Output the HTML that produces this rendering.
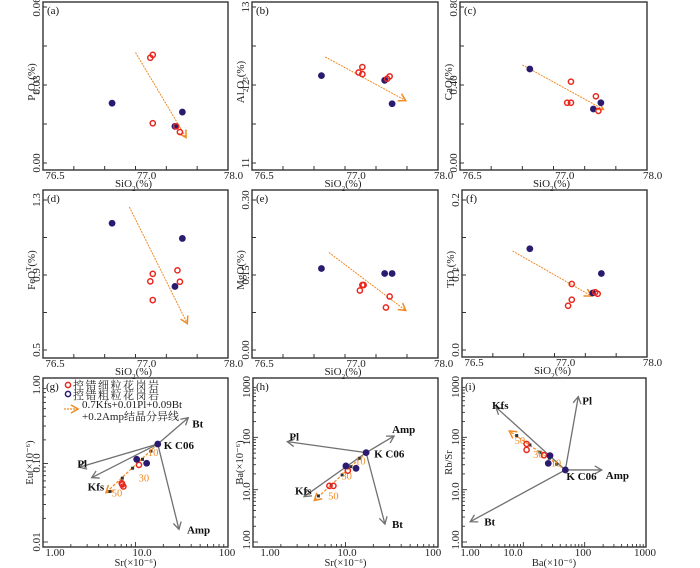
<!DOCTYPE html>
<html><head><meta charset="utf-8"><style>
html,body{margin:0;padding:0;background:#fff;}
svg{display:block;font-family:"Liberation Serif","Noto Serif CJK SC",serif;}
</style></head><body>
<svg id="fig" width="700" height="568" viewBox="0 0 700 568" xmlns="http://www.w3.org/2000/svg">
<defs>
<marker id="ga" markerWidth="10" markerHeight="10" refX="8" refY="5" orient="auto" markerUnits="userSpaceOnUse"><path d="M1,1 L8,5 L1,9" fill="none" stroke="#707070" stroke-width="1.3"/></marker>
<marker id="oa" markerWidth="10" markerHeight="10" refX="8" refY="5" orient="auto" markerUnits="userSpaceOnUse"><path d="M1,1 L8,5 L1,9" fill="none" stroke="#f08a24" stroke-width="1.5"/></marker>
</defs>
</svg>
<script>
// ---------- Data: SiO2 panels ----------
const siBlueA=[77.06,77.63,77.57], pBlue=[0.0230,0.0196,0.0141];
const siRedA=[77.37,77.39,77.39,77.58,77.61], pRed=[0.0405,0.0416,0.0153,0.0141,0.0119];
const trendA=[[77.25,0.0425],[77.66,0.0098]];
const siBlueB=[77.06,77.57,77.63], alBlue=[12.12,12.06,11.76];
const siRedB=[77.36,77.39,77.39,77.59,77.61], alRed=[12.16,12.23,12.14,12.08,12.11];
const trendB=[[77.09,12.36],[77.74,11.80]];
const siBlueC=[77.06,77.57,77.63], caBlue=[0.482,0.277,0.309];
const siRedC=[77.39,77.36,77.39,77.59,77.61], caRed=[0.417,0.309,0.309,0.342,0.267];
const trendC=[[77.0,0.503],[77.65,0.275]];
const siBlueD=[77.06,77.63,77.57], feBlue=[1.176,1.095,0.839];
const siRedD=[77.39,77.37,77.39,77.59,77.61], feRed=[0.906,0.866,0.766,0.925,0.864];
const trendD=[[77.2,1.263],[77.67,0.641]];
const siBlueE=[77.06,77.57,77.63], mgBlue=[0.163,0.153,0.153];
const siRedE=[77.37,77.39,77.40,77.61,77.58], mgRed=[0.119,0.130,0.130,0.107,0.085];
const trendE=[[77.12,0.195],[77.74,0.079]];
const siBlueF=[77.05,77.63,77.56], tiBlue=[0.135,0.102,0.076];
const siRedF=[77.39,77.39,77.36,77.58,77.60], tiRed=[0.088,0.067,0.059,0.077,0.075];
const trendF=[[76.91,0.132],[77.55,0.072]];
// ---------- Data: log panels ----------
const gKC=[17.4,0.177], gBlueX=[10.3,13.2], gBlueY=[0.113,0.1007];
const gRedX=[10.9,7.1,7.4,7.2], gRedY=[0.096,0.056,0.051,0.054];
const gFracX=[14.7,11.9,9.3,7.2,5.3], gFracY=[0.144,0.113,0.087,0.065,0.044];
const gFracEnd=[4.8,0.0425];
const gFracLbl=["10","30","50"], gFracLblX=[15.5,12.3,6.3], gFracLblY=[0.14,0.066,0.043];
const vecNames=["Bt","Pl","Kfs","Amp"];
const gVecX=[37.2,2.47,3.36,29.5], gVecY=[0.383,0.0895,0.066,0.0145];
const hKC=[16.7,51], hBlueX=[10.1,13.0], hBlueY=[28.4,25.6];
const hRedX=[10.6,6.7,7.4], hRedY=[23.1,11.8,11.8];
const hFracX=[14.1,11.4,9.2,7.0,5.1], hFracY=[39.8,27.5,19.1,12.3,7.6];
const hFracEnd=[4.6,6.2];
const hFracLbl=["10","30","50"], hFracLblX=[14.5,10.3,7.4], hFracLblY=[36,18.5,7.8];
const hVecX=[26.7,2.35,3.56,33.5], hVecY=[2.2,82.8,7.35,106];
const iKC=[48.4,23.8], iBlueX=[27.2,25.5], iBlueY=[44.7,31.8];
const iRedX=[11.3,11.3,21.7], iRedY=[74.8,57.6,45.5];
const iFracX=[35,26.5,18.7,12.8,7.8], iFracY=[30.6,39.8,51.9,71.6,108];
const iFracEnd=[5.9,132];
const iFracLbl=["10","30","50"], iFracLblX=[34,17.6,8.8], iFracLblY=[33,48,89];
const iVecX=[1.36,78.7,3.58,190], iVecY=[2.44,600,377,23.8];

const NS="http://www.w3.org/2000/svg";
const svg=document.getElementById('fig');
function el(tag,attrs,parent){const e=document.createElementNS(NS,tag);for(const k in attrs)e.setAttribute(k,attrs[k]);(parent||svg).appendChild(e);return e;}
function txt(str,attrs,parent){const t=el('text',attrs,parent);t.textContent=str;return t;}
function richText(parts,attrs,parent){const t=el('text',attrs,parent);parts.forEach(p=>{const s=el('tspan',p.sub?{'font-size':'7','baseline-shift':p.sup?'super':'sub'}:{},t);s.textContent=p.t;});return t;}

const BLUE="#2b1b70", RED="#e8281e", ORANGE="#f08a24", GRAY="#707070";

function frame(g,L,T,R,B){
  const r=el('rect',{x:L,y:T,width:R-L,height:B-T,fill:'none',stroke:'#333','stroke-width':1.4},g);
  
  
}
function blueDot(g,x,y){const c=el('circle',{cx:x,cy:y,r:3.4,fill:BLUE},g);
  
  }
function redDot(g,x,y){const c=el('circle',{cx:x,cy:y,r:2.6,fill:'none',stroke:RED,'stroke-width':1.5},g);
  
  }

const linPanels=[
 {id:'a',L:43,T:2,R:228,B:170,yTop:0.06,yBot:0,pyTop:7,pyBot:163,yl:['0.06','0.03','0.00'],yt:[{t:'P'},{t:'2',sub:1},{t:'O'},{t:'5',sub:1},{t:'(%)'}],bx:siBlueA,by:pBlue,rx:siRedA,ry:pRed,tr:trendA},
 {id:'b',L:252,T:2,R:438,B:170,yTop:13,yBot:11,pyTop:7,pyBot:163,yl:['13','12','11'],yt:[{t:'Al'},{t:'2',sub:1},{t:'O'},{t:'3',sub:1},{t:'(%)'}],bx:siBlueB,by:alBlue,rx:siRedB,ry:alRed,tr:trendB},
 {id:'c',L:460,T:2,R:647,B:170,yTop:0.8,yBot:0,pyTop:7,pyBot:163,yl:['0.80','0.40','0.00'],yt:[{t:'CaO(%)'}],bx:siBlueC,by:caBlue,rx:siRedC,ry:caRed,tr:trendC},
 {id:'d',L:43,T:190,R:228,B:358,yTop:1.3,yBot:0.5,pyTop:200,pyBot:350,yl:['1.3','0.9','0.5'],yt:[{t:'FeO'},{t:'T',sub:1,sup:1},{t:'(%)'}],bx:siBlueD,by:feBlue,rx:siRedD,ry:feRed,tr:trendD},
 {id:'e',L:252,T:190,R:438,B:358,yTop:0.3,yBot:0,pyTop:200,pyBot:350,yl:['0.30','0.15','0.00'],yt:[{t:'MgO(%)'}],bx:siBlueE,by:mgBlue,rx:siRedE,ry:mgRed,tr:trendE},
 {id:'f',L:462,T:190,R:647,B:357,yTop:0.2,yBot:0,pyTop:200,pyBot:350,yl:['0.2','0.1','0.0'],yt:[{t:'TiO'},{t:'2',sub:1},{t:'(%)'}],bx:siBlueF,by:tiBlue,rx:siRedF,ry:tiRed,tr:trendF},
];
linPanels.forEach(p=>{
  const g=el('g',{});
  
  
  const W=p.R-p.L;
  const sx=v=>p.L+(v-76.5)/1.5*W;
  const sy=v=>p.pyBot+(v-p.yBot)/(p.yTop-p.yBot)*(p.pyTop-p.pyBot);
  frame(g,p.L,p.T,p.R,p.B);
  for(let i=1;i<6;i++){const x=p.L+W*i/6;el('line',{x1:x,y1:p.B,x2:x,y2:p.B-4,stroke:'#333','stroke-width':1},g);}
  for(let i=0;i<5;i++){const y=p.pyTop+(p.pyBot-p.pyTop)*i/4;el('line',{x1:p.L,y1:y,x2:p.L+4,y2:y,stroke:'#333','stroke-width':1},g);}
  [['76.5',0.065],['77.0',0.56],['78.0',1.03]].forEach(([s,f])=>{
    const t=txt(s,{x:p.L+f*W,y:p.B+9,'font-size':11,'text-anchor':'middle',fill:'#222'},g);
    
    });
  const xt=richText([{t:'SiO'},{t:'2',sub:1},{t:'(%)'}],{x:(p.L+p.R)/2-2,y:p.B+17,'font-size':11,'text-anchor':'middle',fill:'#222'},g);
  
  
  p.yl.forEach((s,i)=>{const y=p.pyTop+(p.pyBot-p.pyTop)*i/2;
    const t=txt(s,{x:0,y:0,'font-size':11,'text-anchor':'middle',fill:'#222',transform:`translate(${p.L-3},${y}) rotate(-90)`},g);
    
    });
  const yt=richText(p.yt,{x:0,y:0,'font-size':11,'text-anchor':'middle',fill:'#222',transform:`translate(${p.L-8},${(p.T+p.B)/2-4}) rotate(-90)`},g);
  
  
  const pl=txt('('+p.id+')',{x:p.L+4,y:p.T+12,'font-size':11,fill:'#111'},g);
  
  
  const ar=el('line',{x1:sx(p.tr[0][0]),y1:sy(p.tr[0][1]),x2:sx(p.tr[1][0]),y2:sy(p.tr[1][1]),stroke:ORANGE,'stroke-width':1,'stroke-dasharray':'2,1','marker-end':'url(#oa)'},g);
  
  
  p.bx.forEach((v,i)=>blueDot(g,sx(v),sy(p.by[i])));
  p.rx.forEach((v,i)=>redDot(g,sx(v),sy(p.ry[i])));
});

const logPanels=[
 {id:'g',L:43,T:378,R:228,B:547,xd:[0,2],xp:[43,228],yd:[-2,0],yp:[542,385],
  xl:[['1.00',55],['10.0',142],['100',227]],yl:[['1.00',385],['0.10',463],['0.01',542]],
  xt:'Sr(×10⁻⁶)',yt:'Eu(×10⁻⁶)',kc:gKC,bx:gBlueX,by:gBlueY,rx:gRedX,ry:gRedY,fx:gFracX,fy:gFracY,fe:gFracEnd,fl:gFracLbl,flx:gFracLblX,fly:gFracLblY,vx:gVecX,vy:gVecY,
  vo:{Bt:[4,6],Pl:[-2,-4],Kfs:[-4,9],Amp:[8,0]},kco:[6,5]},
 {id:'h',L:253,T:378,R:438,B:547,xd:[0,2],xp:[253,438],yd:[0,3],yp:[542,385],
  xl:[['1.00',270],['10.0',347],['100',433]],yl:[['1000',387],['100',437],['10.0',492],['1.00',540]],
  xt:'Sr(×10⁻⁶)',yt:'Ba(×10⁻⁶)',kc:hKC,bx:hBlueX,by:hBlueY,rx:hRedX,ry:hRedY,fx:hFracX,fy:hFracY,fe:hFracEnd,fl:hFracLbl,flx:hFracLblX,fly:hFracLblY,vx:hVecX,vy:hVecY,
  vo:{Bt:[7,0],Pl:[2,-5],Kfs:[-9,-6],Amp:[-2,-7]},kco:[8,5]},
 {id:'i',L:462,T:378,R:646,B:547,xd:[0,3],xp:[462,646],yd:[0,3],yp:[542,385],
  xl:[['1.00',470],['10.0',513],['100',583],['1000',645]],yl:[['1000',387],['100',437],['10.0',492],['1.00',540]],
  xt:'Ba(×10⁻⁶)',yt:'Rb/Sr',kc:iKC,bx:iBlueX,by:iBlueY,rx:iRedX,ry:iRedY,fx:iFracX,fy:iFracY,fe:iFracEnd,fl:iFracLbl,flx:iFracLblX,fly:iFracLblY,vx:iVecX,vy:iVecY,
  vo:{Bt:[14,0],Pl:[4,4],Kfs:[-4,-2],Amp:[4,5]},kco:[1,10]},
];
logPanels.forEach(p=>{
  const g=el('g',{});
  
  
  const sx=v=>p.xp[0]+(Math.log10(v)-p.xd[0])/(p.xd[1]-p.xd[0])*(p.xp[1]-p.xp[0]);
  const sy=v=>p.yp[0]+(Math.log10(v)-p.yd[0])/(p.yd[1]-p.yd[0])*(p.yp[1]-p.yp[0]);
  frame(g,p.L,p.T,p.R,p.B);
  for(let d=p.xd[0];d<p.xd[1];d++)for(let m=1;m<10;m++){const x=sx(m*Math.pow(10,d));if(x<=p.L+0.5)continue;
    el('line',{x1:x,y1:p.B,x2:x,y2:p.B-(m==1?5:3),stroke:'#333','stroke-width':0.9},g);}
  for(let d=p.yd[0];d<p.yd[1];d++)for(let m=1;m<10;m++){const y=sy(m*Math.pow(10,d));
    el('line',{x1:p.L,y1:y,x2:p.L+(m==1?5:3),y2:y,stroke:'#333','stroke-width':0.9},g);}
  p.xl.forEach(([s,x])=>{const t=txt(s,{x:x,y:p.B+9,'font-size':11,'text-anchor':'middle',fill:'#222'},g);
    
    });
  const xt=txt(p.xt,{x:(p.L+p.R)/2,y:p.B+19,'font-size':10.5,'text-anchor':'middle',fill:'#222'},g);
  
  
  p.yl.forEach(([s,y])=>{const t=txt(s,{x:0,y:0,'font-size':11,'text-anchor':'middle',fill:'#222',transform:`translate(${p.L-3},${y}) rotate(-90)`},g);
    
    });
  const yt=txt(p.yt,{x:0,y:0,'font-size':10.5,'text-anchor':'middle',fill:'#222',transform:`translate(${p.L-10},${(p.T+p.B)/2}) rotate(-90)`},g);
  
  
  const pl=txt('('+p.id+')',{x:p.L+3,y:p.T+12,'font-size':11,fill:'#111'},g);
  
  
  const kx=sx(p.kc[0]),ky=sy(p.kc[1]);
  p.vx.forEach((v,i)=>{
    const x2=sx(v),y2=sy(p.vy[i]);
    const ln=el('line',{x1:kx,y1:ky,x2:x2,y2:y2,stroke:GRAY,'stroke-width':1.3,'marker-end':'url(#ga)'},g);
    
    
    const o=p.vo[vecNames[i]];
    const t=txt(vecNames[i],{x:x2+o[0],y:y2+o[1]+4,'font-size':11,'font-weight':'bold',fill:'#111'},g);
    
    
  });
  const fr=el('line',{x1:kx,y1:ky,x2:sx(p.fe[0]),y2:sy(p.fe[1]),stroke:ORANGE,'stroke-width':1.2,'stroke-dasharray':'3,1.5','marker-end':'url(#oa)'},g);
  
  
  p.fx.forEach((v,i)=>{const r=el('rect',{x:sx(v)-1.5,y:sy(p.fy[i])-1.5,width:3,height:3,fill:'#333'},g);
    
    });
  p.fl.forEach((s,i)=>{const t=txt(s,{x:sx(p.flx[i]),y:sy(p.fly[i])+4,'font-size':10.5,'text-anchor':'middle',fill:ORANGE},g);
    
    });
  p.rx.forEach((v,i)=>redDot(g,sx(v),sy(p.ry[i])));
  p.bx.forEach((v,i)=>blueDot(g,sx(v),sy(p.by[i])));
  blueDot(g,kx,ky);
  const k=txt('K C06',{x:kx+p.kco[0],y:ky+p.kco[1],'font-size':11,'font-weight':'bold',fill:'#111'},g);
  
  
});

const lg=el('g',{});


const lr=el('circle',{cx:68,cy:385,r:2.6,fill:'none',stroke:RED,'stroke-width':1.5},lg);


const lt1=txt('控错细粒花岗岩',{x:73,y:389,'font-size':11,fill:'#222','letter-spacing':'1.5'},lg);


const lb=el('circle',{cx:68,cy:394,r:2.6,fill:'none',stroke:BLUE,'stroke-width':1.5},lg);


const lt2=txt('控错粗粒花岗岩',{x:73,y:399,'font-size':11,fill:'#222','letter-spacing':'1.5'},lg);


const la=el('line',{x1:64,y1:409,x2:78,y2:409,stroke:ORANGE,'stroke-width':1.2,'stroke-dasharray':'2,1','marker-end':'url(#oa)'},lg);


const lt3=txt('0.7Kfs+0.01Pl+0.09Bt',{x:82,y:408,'font-size':11,fill:'#222'},lg);


const lt4=txt('+0.2Amp结晶分异线',{x:82,y:420,'font-size':11,fill:'#222'},lg);


</script>
</body></html>
